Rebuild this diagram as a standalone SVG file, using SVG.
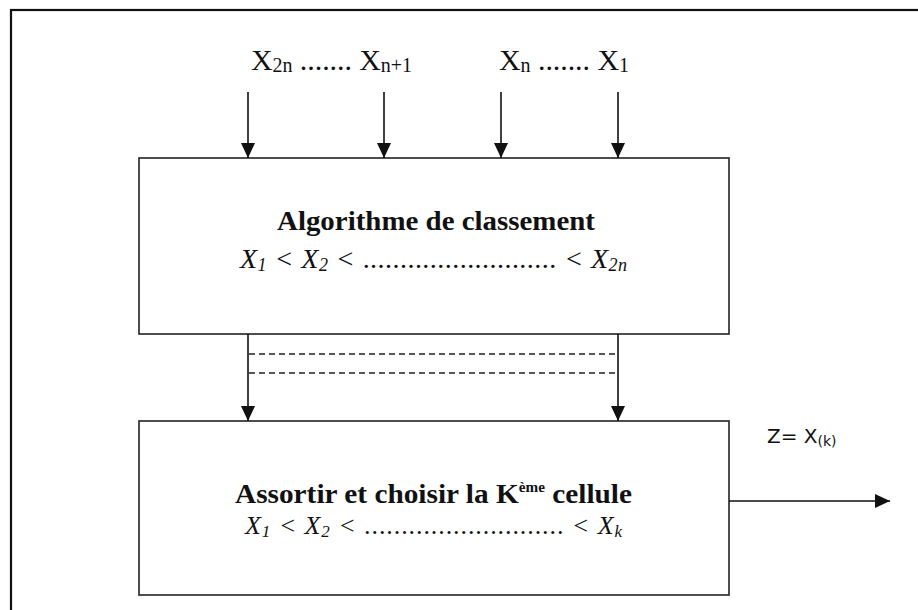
<svg xmlns="http://www.w3.org/2000/svg" width="918" height="610" viewBox="0 0 918 610">
<style>
.serif{font-family:"Liberation Serif","Times New Roman",serif;fill:#111}
.bold{font-weight:bold}
.it{font-style:italic}
.sans{font-family:"DejaVu Sans","Liberation Sans",sans-serif;fill:#111}
.box{fill:#fff;stroke:#222;stroke-width:1.6}
.conn{stroke:#111;stroke-width:1.6;fill:none}
.dash{stroke:#222;stroke-width:1.4;stroke-dasharray:6 4;fill:none}
</style>
<defs>
<marker id="ah" viewBox="0 0 15 14" refX="15" refY="7" markerWidth="15" markerHeight="14" markerUnits="userSpaceOnUse" orient="auto">
<path d="M0,0 L15,7 L0,14 z" fill="#111"/>
</marker>
</defs>
<rect x="11" y="10" width="940" height="640" fill="#fff" stroke="#111" stroke-width="2.2"/>
<g id="inputs">
<text class="serif" x="251" y="70" font-size="30" textLength="161" lengthAdjust="spacing">X<tspan font-size="20" dy="2">2n</tspan><tspan dy="-2"> ....... X</tspan><tspan font-size="20" dy="2">n+1</tspan></text>
<text class="serif" x="499" y="70" font-size="30" textLength="130" lengthAdjust="spacing">X<tspan font-size="20" dy="2">n</tspan><tspan dy="-2"> ....... X</tspan><tspan font-size="20" dy="2">1</tspan></text>
</g>
<g id="box1">
<rect class="box" x="139" y="158" width="590" height="176"/>
<text class="serif bold" x="277" y="230" font-size="28" textLength="318" lengthAdjust="spacingAndGlyphs">Algorithme de classement</text>
<text class="serif it" x="240" y="268" font-size="28" textLength="387" lengthAdjust="spacing">X<tspan font-size="18" dy="3">1</tspan><tspan dy="-3"> &lt; X</tspan><tspan font-size="18" dy="3">2</tspan><tspan dy="-3"> &lt; <tspan font-style="normal">..........................</tspan> &lt; X</tspan><tspan font-size="18" dy="3">2n</tspan></text>
</g>
<g id="box2">
<rect class="box" x="139" y="421" width="590" height="174"/>
<text class="serif bold" x="235" y="503" font-size="27" textLength="397" lengthAdjust="spacingAndGlyphs">Assortir et choisir la K<tspan font-size="14" dy="-11">ème</tspan><tspan dy="11"> cellule</tspan></text>
<text class="serif it" x="245" y="534" font-size="26" textLength="377" lengthAdjust="spacing">X<tspan font-size="17" dy="3">1</tspan><tspan dy="-3"> &lt; X</tspan><tspan font-size="17" dy="3">2</tspan><tspan dy="-3"> &lt; <tspan font-style="normal">...........................</tspan> &lt; X</tspan><tspan font-size="17" dy="3">k</tspan></text>
</g>
<g id="output-label">
<text class="sans" x="767" y="443" font-size="20">Z= X<tspan font-size="14" dy="3">(k)</tspan></text>
</g>
<g id="connectors">
<line class="conn" x1="248" y1="92" x2="248" y2="158" marker-end="url(#ah)"/>
<line class="conn" x1="384" y1="92" x2="384" y2="158" marker-end="url(#ah)"/>
<line class="conn" x1="501" y1="92" x2="501" y2="158" marker-end="url(#ah)"/>
<line class="conn" x1="618" y1="92" x2="618" y2="158" marker-end="url(#ah)"/>
<line class="conn" x1="248" y1="334" x2="248" y2="421" marker-end="url(#ah)"/>
<line class="conn" x1="618" y1="334" x2="618" y2="421" marker-end="url(#ah)"/>
<line class="dash" x1="249" y1="354" x2="617" y2="354"/>
<line class="dash" x1="249" y1="373" x2="617" y2="373"/>
<line class="conn" x1="729" y1="501" x2="890" y2="501" marker-end="url(#ah)"/>
</g>
</svg>
